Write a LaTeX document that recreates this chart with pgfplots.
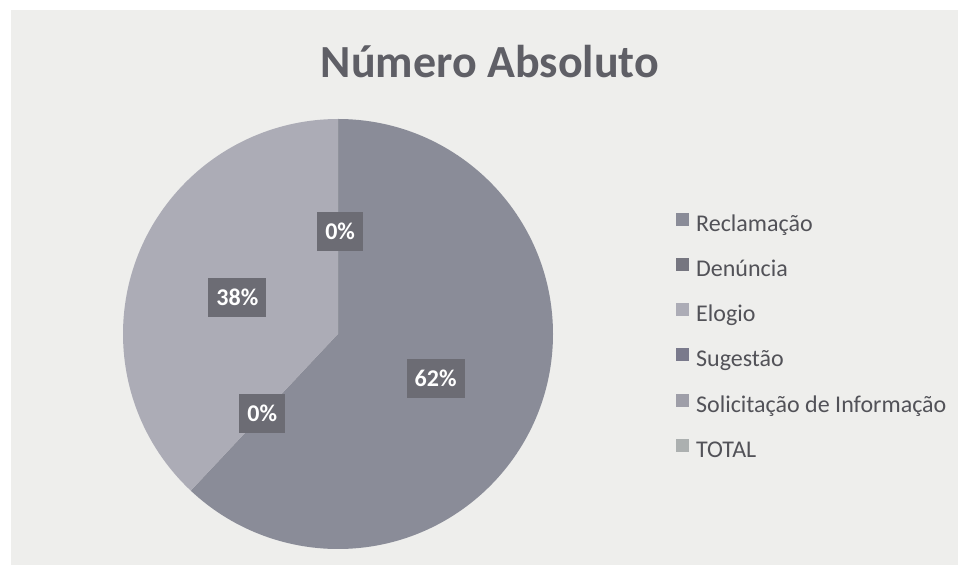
\documentclass[border=0pt]{standalone}
\usepackage{pgfplots}
\pgfplotsset{compat=1.18}
\usepackage{pgfplotstable}
\usepackage{fontspec}
\setmainfont{Carlito}

\definecolor{bgcol}{RGB}{238,238,236}
\definecolor{slice0}{RGB}{138,140,152}
\definecolor{slice1}{RGB}{118,118,128}
\definecolor{slice2}{RGB}{172,172,182}
\definecolor{slice3}{RGB}{122,122,140}
\definecolor{slice4}{RGB}{158,158,168}
\definecolor{slice5}{RGB}{172,176,176}
\definecolor{boxcol}{RGB}{108,108,116}
\definecolor{titlecol}{RGB}{95,95,102}
\definecolor{legtext}{RGB}{82,82,88}

% percentages of each category (clockwise from 12 o'clock)
\pgfplotstableread[col sep=comma]{
name,value
Reclamação,62
Denúncia,0
Elogio,38
Sugestão,0
Solicitação de Informação,0
TOTAL,0
}\piedata

\def\pieslices{}
\xdef\startang{90}
\pgfplotstableforeachcolumnelement{value}\of\piedata\as\val{%
  \pgfmathsetmacro\endang{\startang-3.6*\val}%
  \xdef\pieslices{\unexpanded\expandafter{\pieslices}\noexpand\fill[slice\pgfplotstablerow] (axis cs:0,0) -- ++(\startang:215pt) arc[start angle=\startang, end angle=\endang, radius=215pt] -- cycle;}%
  \xdef\startang{\endang}%
}

\begin{document}
\begin{tikzpicture}[
  lbl/.style={fill=boxcol, text=white, font=\bfseries\fontsize{24}{28}\selectfont,
    minimum height=39pt, inner xsep=8pt}]
\fill[white] (0,0) rectangle (962pt,568pt);
\fill[bgcol] (11pt,3pt) rectangle (958pt,558pt);
\node[font=\bfseries\fontsize{46}{55}\selectfont, text=titlecol] at (490pt,506pt) {Número Absoluto};
\begin{axis}[
  at={(338pt,234pt)}, anchor=center,
  width=430pt, height=430pt, scale only axis,
  xmin=-1, xmax=1, ymin=-1, ymax=1,
  hide axis, clip=false,
  legend cell align=left,
  legend image code/.code={\path (0pt,-10pt); \fill[draw=none,#1] (0pt,-0.5pt) rectangle (13pt,12.5pt);},
  legend style={at={(1.286,0.783)}, anchor=north west, draw=none, fill=none,
    inner sep=0pt, font=\fontsize{24}{28}\selectfont, text=legtext,
    row sep=21.8pt, nodes={inner ysep=0pt, inner xsep=0pt, text height=17pt, text depth=5pt},
    /tikz/column 2/.style={column sep=0pt}, /tikz/column 1/.style={column sep=7pt}},
]
\pieslices
\addlegendimage{fill=slice0, draw=none}\addlegendentry{Reclamação}
\addlegendimage{fill=slice1, draw=none}\addlegendentry{Denúncia}
\addlegendimage{fill=slice2, draw=none}\addlegendentry{Elogio}
\addlegendimage{fill=slice3, draw=none}\addlegendentry{Sugestão}
\addlegendimage{fill=slice4, draw=none}\addlegendentry{Solicitação de Informação}
\addlegendimage{fill=slice5, draw=none}\addlegendentry{TOTAL}
\node[lbl] at (axis cs:0.01,0.477) {0\%};
\node[lbl] at (axis cs:-0.468,0.171) {38\%};
\node[lbl] at (axis cs:-0.352,-0.370) {0\%};
\node[lbl] at (axis cs:0.454,-0.208) {62\%};
\end{axis}
\end{tikzpicture}
\end{document}
